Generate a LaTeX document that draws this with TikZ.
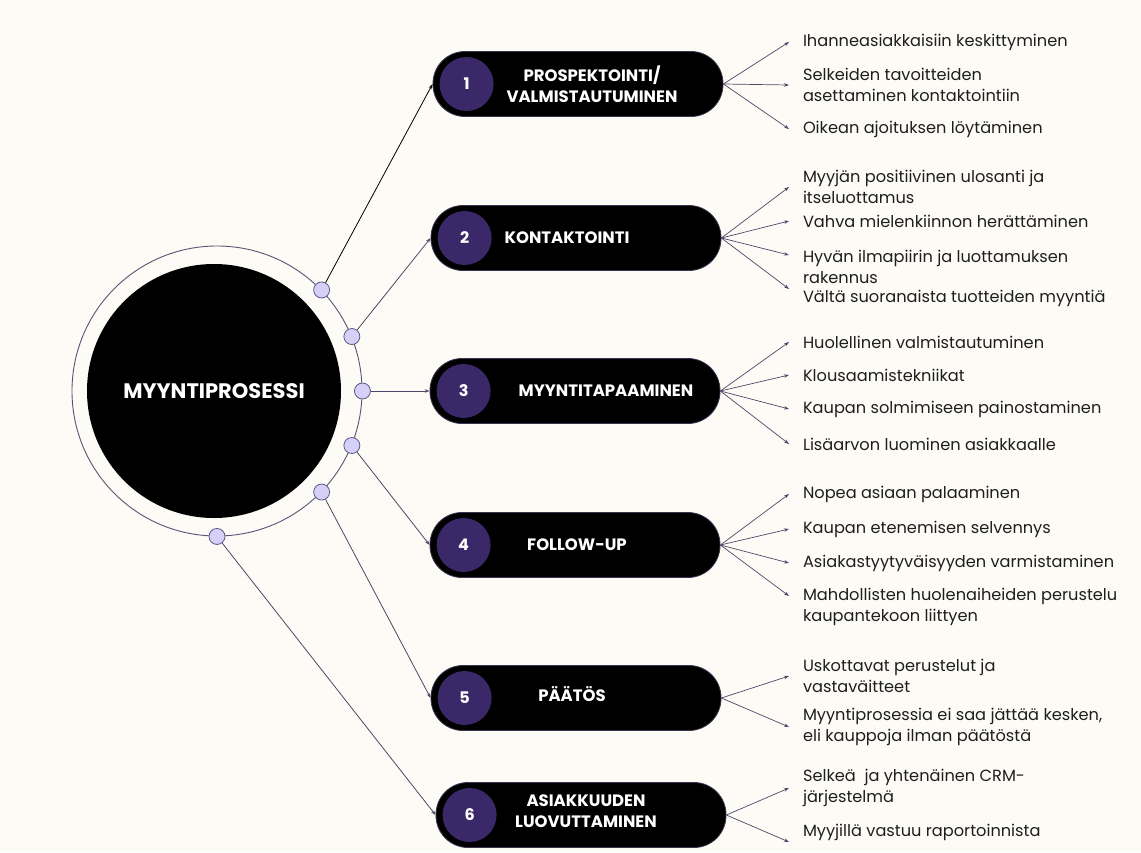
\documentclass[tikz,border=0pt]{standalone}
\usepackage{fontspec}
\setmainfont{Poppins}
\usetikzlibrary{arrows.meta}

\definecolor{bgcream}{HTML}{FDFBF6}
\definecolor{ringline}{HTML}{5A5474}
\definecolor{dotfill}{HTML}{D4D0F8}
\definecolor{dotline}{HTML}{5E5885}
\definecolor{pillline}{HTML}{3A3450}
\definecolor{numfill}{HTML}{3B2868}
\definecolor{linkline}{HTML}{4E4868}
\definecolor{itemtext}{HTML}{1E1E1E}

\begin{document}
\begin{tikzpicture}[
    x=1pt, y=-1pt,
    >={Stealth[length=5pt,width=3.5pt]},
    hub/.style={circle,fill=black,minimum size=254pt,inner sep=0pt,text=white,font=\fontsize{21}{25}\selectfont\bfseries},
    ring/.style={circle,draw=ringline,line width=0.9pt,minimum size=290pt,inner sep=0pt},
    dot/.style={circle,draw=dotline,fill=dotfill,line width=0.8pt,minimum size=16pt,inner sep=0pt},
    pill/.style={rectangle,rounded corners=32pt,draw=pillline,fill=black,line width=0.8pt,minimum width=290pt,minimum height=65pt},
    num/.style={circle,fill=numfill,minimum size=54pt,inner sep=0pt,text=white,font=\fontsize{16}{16}\selectfont\bfseries},
    title/.style={text=white,align=center,inner sep=0pt,font=\fontsize{16.5}{21}\selectfont\bfseries},
    item/.style={anchor=west,align=left,inner sep=0pt,outer xsep=14pt,outer ysep=0pt,text=itemtext,font=\fontsize{16.2}{21}\selectfont},
    link/.style={->,draw=linkline,line width=0.8pt},
    fan/.style={->,draw=linkline,line width=0.7pt}
]
    \useasboundingbox (0,0) rectangle (1141,852);
    \fill[bgcream] (0,0) rectangle (1141,852);

    % Hub
    \node[ring] (ring) at (217,391) {};
    \node[hub] (hub) at (214,391) {MYYNTIPROSESSI};
    \node[dot] (d1) at (ring.44) {};
    \node[dot] (d2) at (ring.22) {};
    \node[dot] (d3) at (ring.0) {};
    \node[dot] (d4) at (ring.-22) {};
    \node[dot] (d5) at (ring.-44) {};
    \node[dot] (d6) at (ring.-90) {};

    % Steps
    \node[pill] (p1) at (578,84) {};
    \node[pill] (p2) at (576,238) {};
    \node[pill] (p3) at (575,391) {};
    \node[pill] (p4) at (575,545) {};
    \node[pill] (p5) at (576,698) {};
    \node[pill] (p6) at (581,815) {};
    \node[num] (n1) at ([xshift=34pt]p1.west) {1};
    \node[num] (n2) at ([xshift=34pt]p2.west) {2};
    \node[num] (n3) at ([xshift=34pt]p3.west) {3};
    \node[num] (n4) at ([xshift=34pt]p4.west) {4};
    \node[num] (n5) at ([xshift=34pt]p5.west) {5};
    \node[num] (n6) at ([xshift=34pt]p6.west) {6};
    \node[title] (t1) at (592,84) {PROSPEKTOINTI/\\VALMISTAUTUMINEN};
    \node[title] (t2) at (567,238) {KONTAKTOINTI};
    \node[title] (t3) at (606,391) {MYYNTITAPAAMINEN};
    \node[title] (t4) at (577,545) {FOLLOW-UP};
    \node[title] (t5) at (572,694) {PÄÄTÖS};
    \node[title] (t6) at (586,811) {ASIAKKUUDEN\\LUOVUTTAMINEN};

    % Items
    \node[item] (i11) at (789,42) {Ihanneasiakkaisiin keskittyminen};
    \node[item] (i12) at (789,85) {Selkeiden tavoitteiden\\asettaminen kontaktointiin};
    \node[item] (i13) at (789,129) {Oikean ajoituksen löytäminen};
    \node[item] (i21) at (789,187) {Myyjän positiivinen ulosanti ja\\itseluottamus};
    \node[item] (i22) at (789,221) {Vahva mielenkiinnon herättäminen};
    \node[item] (i23) at (789,267) {Hyvän ilmapiirin ja luottamuksen\\rakennus};
    \node[item] (i24) at (789,298) {Vältä suoranaista tuotteiden myyntiä};
    \node[item] (i31) at (789,342) {Huolellinen valmistautuminen};
    \node[item] (i32) at (789,375) {Klousaamistekniikat};
    \node[item] (i33) at (789,409) {Kaupan solmimiseen painostaminen};
    \node[item] (i34) at (789,444) {Lisäarvon luominen asiakkaalle};
    \node[item] (i41) at (789,494) {Nopea asiaan palaaminen};
    \node[item] (i42) at (789,529) {Kaupan etenemisen selvennys};
    \node[item] (i43) at (789,563) {Asiakastyytyväisyyden varmistaminen};
    \node[item] (i44) at (789,607) {Mahdollisten huolenaiheiden perustelu\\kaupantekoon liittyen};
    \node[item] (i51) at (789,676) {Uskottavat perustelut ja\\vastaväitteet};
    \node[item] (i52) at (789,727) {Myyntiprosessia ei saa jättää kesken,\\eli kauppoja ilman päätöstä};
    \node[item] (i61) at (789,788) {Selkeä~ ja yhtenäinen CRM-\\järjestelmä};
    \node[item] (i62) at (789,832) {Myyjillä vastuu raportoinnista};

    % Edges
    \draw[link,draw=black] (d1) -- (p1.west);
    \draw[link] (d2) -- (p2.west);
    \draw[link] (d3) -- (p3.west);
    \draw[link] (d4) -- (p4.west);
    \draw[link] (d5) -- (p5.west);
    \draw[link] (d6) -- (p6.west);

    \draw[fan] (p1.east) -- (i11.west);
    \draw[fan] (p1.east) -- (i12.west);
    \draw[fan] (p1.east) -- (i13.west);
    \draw[fan] (p2.east) -- (i21.west);
    \draw[fan] (p2.east) -- (i22.west);
    \draw[fan] (p2.east) -- ([yshift=12pt]i23.west);
    \draw[fan] (p2.east) -- ([yshift=9pt]i24.west);
    \draw[fan] (p3.east) -- (i31.west);
    \draw[fan] (p3.east) -- (i32.west);
    \draw[fan] (p3.east) -- (i33.west);
    \draw[fan] (p3.east) -- (i34.west);
    \draw[fan] (p4.east) -- (i41.west);
    \draw[fan] (p4.east) -- (i42.west);
    \draw[fan] (p4.east) -- (i43.west);
    \draw[fan] (p4.east) -- ([yshift=11pt]i44.west);
    \draw[fan] (p5.east) -- (i51.west);
    \draw[fan] (p5.east) -- (i52.west);
    \draw[fan] (p6.east) -- (i61.west);
    \draw[fan] (p6.east) -- ([yshift=-10pt]i62.west);
\end{tikzpicture}
\end{document}
